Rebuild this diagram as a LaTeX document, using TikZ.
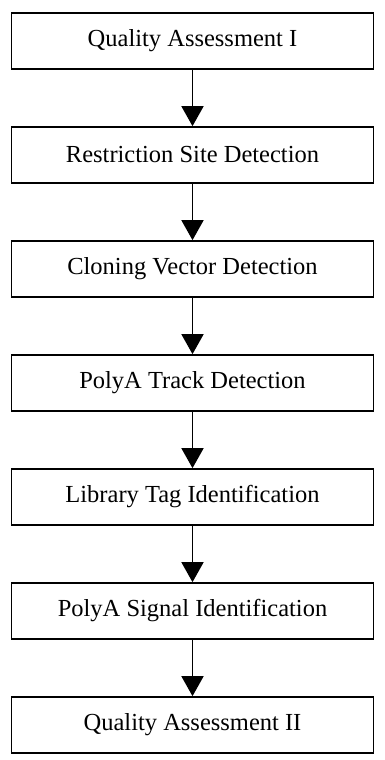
\documentclass[tikz,border=0pt]{standalone}
\usepackage{fontspec}
\setmainfont{Liberation Serif}
\usepackage{tikz}
\usetikzlibrary{arrows.meta}
\definecolor{ink}{HTML}{000000}
\tikzset{
  stepbox/.style={draw=ink, line width=1.7pt, minimum width=362pt, minimum height=56pt,
    inner sep=0pt, font=\fontsize{24.5}{28}\selectfont},
  flow/.style={draw=ink, line width=1.7pt, -{Triangle[width=22pt,length=20pt]}}
}

\begin{document}
\begin{tikzpicture}[x=1pt,y=1pt]
  \useasboundingbox (0,0) rectangle (385,-760);

  \node[stepbox] (qa1)  at (192.5,-41)  {Quality Assessment I};
  \node[stepbox] (rsd)  at (192.5,-155) {Restriction Site Detection};
  \node[stepbox] (cvd)  at (192.5,-269) {Cloning Vector Detection};
  \node[stepbox] (ptd)  at (192.5,-383) {PolyA Track Detection};
  \node[stepbox] (lti)  at (192.5,-497) {Library Tag Identification};
  \node[stepbox] (psi)  at (192.5,-611) {PolyA Signal Identification};
  \node[stepbox] (qa2)  at (192.5,-725) {Quality Assessment II};

  \draw[flow] (qa1) -- (rsd);
  \draw[flow] (rsd) -- (cvd);
  \draw[flow] (cvd) -- (ptd);
  \draw[flow] (ptd) -- (lti);
  \draw[flow] (lti) -- (psi);
  \draw[flow] (psi) -- (qa2);
\end{tikzpicture}
\end{document}
